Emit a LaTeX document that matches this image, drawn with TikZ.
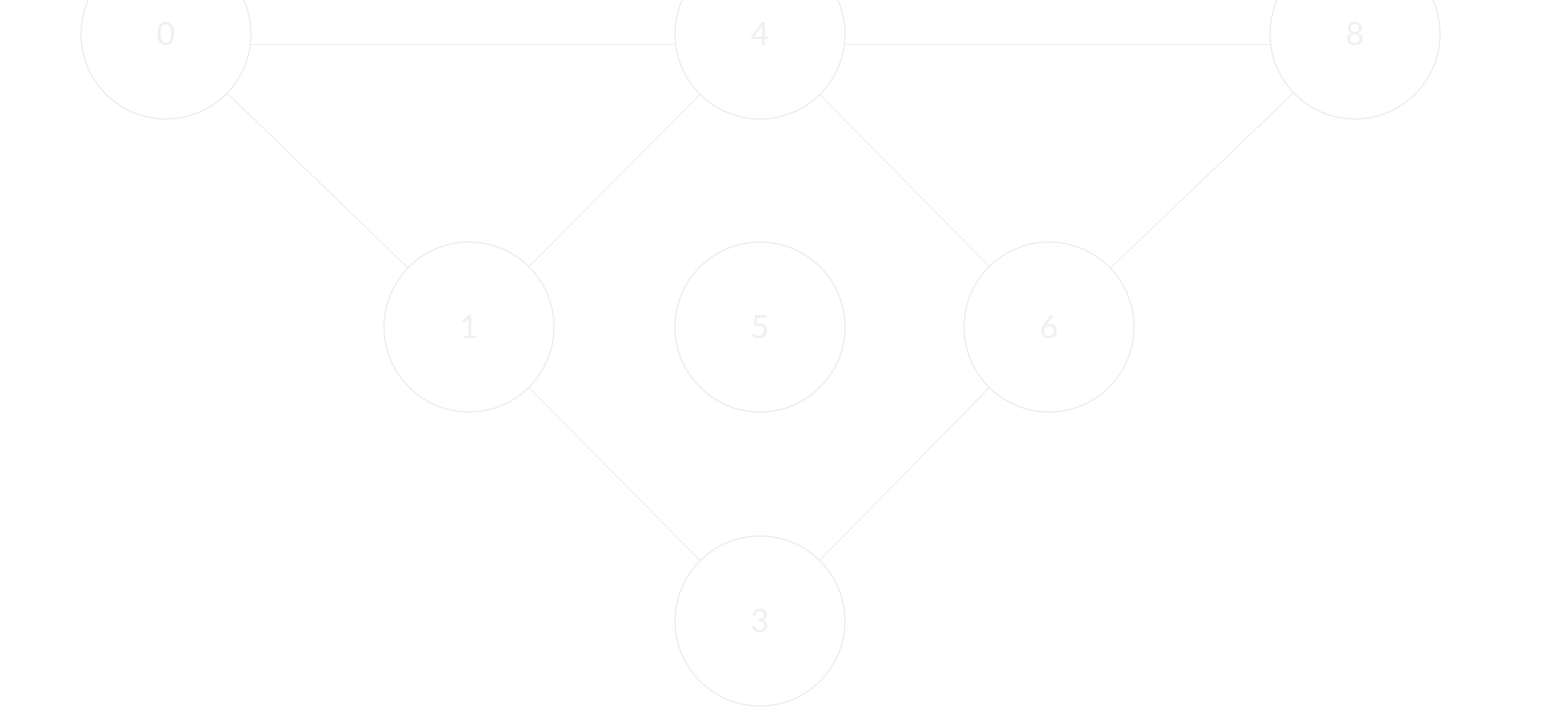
\documentclass[tikz,border=0pt]{standalone}
\usepackage{fontspec}
\setmainfont{Lato}
\begin{document}
\begin{tikzpicture}[x=0.5pt,y=-0.5pt,
  vtx/.style={circle,draw=black!7,fill=white,line width=0.6pt,minimum size=85pt,inner sep=0pt,
    text=black!6,font=\fontsize{16}{18}\selectfont},
  edge/.style={draw=black!6,line width=0.6pt}]
\useasboundingbox (0,0) rectangle (1563,707);
\node[vtx] (n0) at (166,34) {0};
\node[vtx] (n4) at (760,34) {4};
\node[vtx] (n8) at (1355,34) {8};
\node[vtx] (n1) at (469,327) {1};
\node[vtx] (n5) at (760,327) {5};
\node[vtx] (n6) at (1049,327) {6};
\node[vtx] (n3) at (760,621) {3};
\draw[edge] (n0.-7) -- (n4.187);
\draw[edge] (n4.-7) -- (n8.187);
\draw[edge] (n0) -- (n1);
\draw[edge] (n4) -- (n1);
\draw[edge] (n4) -- (n6);
\draw[edge] (n8) -- (n6);
\draw[edge] (n1) -- (n3);
\draw[edge] (n6) -- (n3);
\end{tikzpicture}
\end{document}
